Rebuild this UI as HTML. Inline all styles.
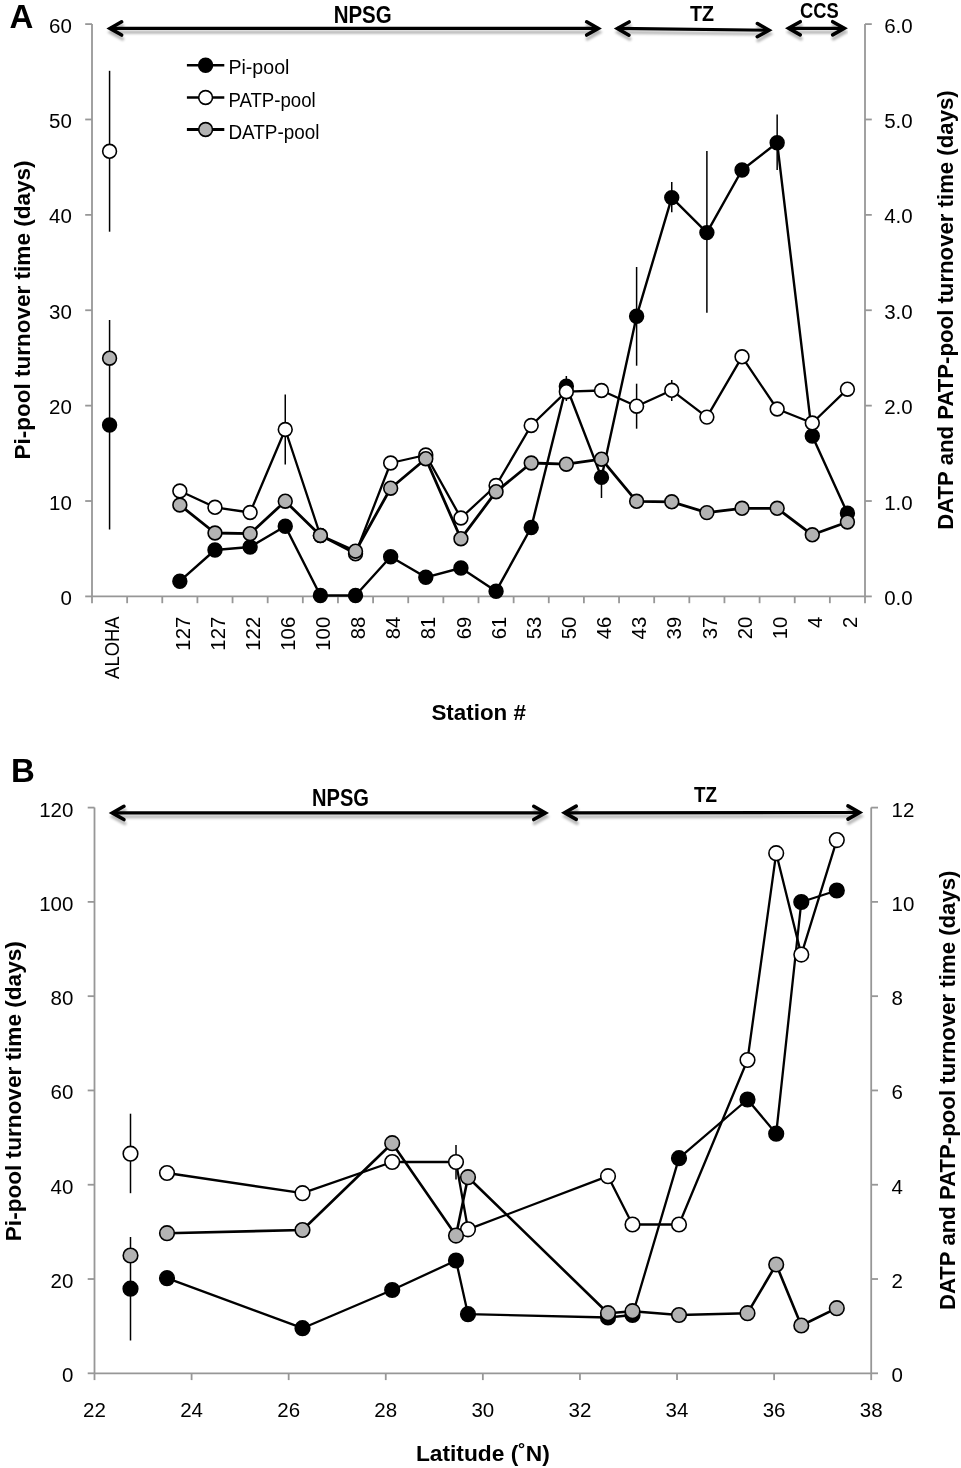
<!DOCTYPE html>
<html><head><meta charset="utf-8"><title>Turnover time</title>
<style>html,body{margin:0;padding:0;background:#fff;} svg{display:block;will-change:transform;} text{font-family:"Liberation Sans", sans-serif;fill:#000;}</style>
</head><body>
<svg width="961" height="1468" viewBox="0 0 961 1468">
<defs><filter id="sh" x="-5%" y="-50%" width="110%" height="250%"><feDropShadow dx="0.8" dy="3.8" stdDeviation="1.3" flood-color="#000" flood-opacity="0.28"/></filter></defs>
<rect width="961" height="1468" fill="#fff"/>
<g stroke="#979797" stroke-width="1.8" fill="none">
<line x1="92.00" y1="24.10" x2="92.00" y2="596.40" stroke="#979797" stroke-width="1.8" />
<line x1="865.00" y1="24.10" x2="865.00" y2="596.40" stroke="#979797" stroke-width="1.8" />
<line x1="92.00" y1="596.40" x2="865.00" y2="596.40" stroke="#979797" stroke-width="1.8" />
<line x1="85.20" y1="596.40" x2="92.00" y2="596.40" stroke="#979797" stroke-width="1.8" />
<line x1="865.00" y1="596.40" x2="871.80" y2="596.40" stroke="#979797" stroke-width="1.8" />
<line x1="85.20" y1="501.02" x2="92.00" y2="501.02" stroke="#979797" stroke-width="1.8" />
<line x1="865.00" y1="501.02" x2="871.80" y2="501.02" stroke="#979797" stroke-width="1.8" />
<line x1="85.20" y1="405.63" x2="92.00" y2="405.63" stroke="#979797" stroke-width="1.8" />
<line x1="865.00" y1="405.63" x2="871.80" y2="405.63" stroke="#979797" stroke-width="1.8" />
<line x1="85.20" y1="310.25" x2="92.00" y2="310.25" stroke="#979797" stroke-width="1.8" />
<line x1="865.00" y1="310.25" x2="871.80" y2="310.25" stroke="#979797" stroke-width="1.8" />
<line x1="85.20" y1="214.87" x2="92.00" y2="214.87" stroke="#979797" stroke-width="1.8" />
<line x1="865.00" y1="214.87" x2="871.80" y2="214.87" stroke="#979797" stroke-width="1.8" />
<line x1="85.20" y1="119.48" x2="92.00" y2="119.48" stroke="#979797" stroke-width="1.8" />
<line x1="865.00" y1="119.48" x2="871.80" y2="119.48" stroke="#979797" stroke-width="1.8" />
<line x1="85.20" y1="24.10" x2="92.00" y2="24.10" stroke="#979797" stroke-width="1.8" />
<line x1="865.00" y1="24.10" x2="871.80" y2="24.10" stroke="#979797" stroke-width="1.8" />
<line x1="92.00" y1="596.40" x2="92.00" y2="603.20" stroke="#979797" stroke-width="1.8" />
<line x1="127.14" y1="596.40" x2="127.14" y2="603.20" stroke="#979797" stroke-width="1.8" />
<line x1="162.27" y1="596.40" x2="162.27" y2="603.20" stroke="#979797" stroke-width="1.8" />
<line x1="197.41" y1="596.40" x2="197.41" y2="603.20" stroke="#979797" stroke-width="1.8" />
<line x1="232.55" y1="596.40" x2="232.55" y2="603.20" stroke="#979797" stroke-width="1.8" />
<line x1="267.68" y1="596.40" x2="267.68" y2="603.20" stroke="#979797" stroke-width="1.8" />
<line x1="302.82" y1="596.40" x2="302.82" y2="603.20" stroke="#979797" stroke-width="1.8" />
<line x1="337.95" y1="596.40" x2="337.95" y2="603.20" stroke="#979797" stroke-width="1.8" />
<line x1="373.09" y1="596.40" x2="373.09" y2="603.20" stroke="#979797" stroke-width="1.8" />
<line x1="408.23" y1="596.40" x2="408.23" y2="603.20" stroke="#979797" stroke-width="1.8" />
<line x1="443.36" y1="596.40" x2="443.36" y2="603.20" stroke="#979797" stroke-width="1.8" />
<line x1="478.50" y1="596.40" x2="478.50" y2="603.20" stroke="#979797" stroke-width="1.8" />
<line x1="513.64" y1="596.40" x2="513.64" y2="603.20" stroke="#979797" stroke-width="1.8" />
<line x1="548.77" y1="596.40" x2="548.77" y2="603.20" stroke="#979797" stroke-width="1.8" />
<line x1="583.91" y1="596.40" x2="583.91" y2="603.20" stroke="#979797" stroke-width="1.8" />
<line x1="619.05" y1="596.40" x2="619.05" y2="603.20" stroke="#979797" stroke-width="1.8" />
<line x1="654.18" y1="596.40" x2="654.18" y2="603.20" stroke="#979797" stroke-width="1.8" />
<line x1="689.32" y1="596.40" x2="689.32" y2="603.20" stroke="#979797" stroke-width="1.8" />
<line x1="724.45" y1="596.40" x2="724.45" y2="603.20" stroke="#979797" stroke-width="1.8" />
<line x1="759.59" y1="596.40" x2="759.59" y2="603.20" stroke="#979797" stroke-width="1.8" />
<line x1="794.73" y1="596.40" x2="794.73" y2="603.20" stroke="#979797" stroke-width="1.8" />
<line x1="829.86" y1="596.40" x2="829.86" y2="603.20" stroke="#979797" stroke-width="1.8" />
<line x1="865.00" y1="596.40" x2="865.00" y2="603.20" stroke="#979797" stroke-width="1.8" />
</g>
<text x="71.80" y="605.00" font-size="20.5" text-anchor="end" font-weight="normal" >0</text>
<text x="884.20" y="605.00" font-size="20.5" text-anchor="start" font-weight="normal" >0.0</text>
<text x="71.80" y="509.62" font-size="20.5" text-anchor="end" font-weight="normal" >10</text>
<text x="884.20" y="509.62" font-size="20.5" text-anchor="start" font-weight="normal" >1.0</text>
<text x="71.80" y="414.23" font-size="20.5" text-anchor="end" font-weight="normal" >20</text>
<text x="884.20" y="414.23" font-size="20.5" text-anchor="start" font-weight="normal" >2.0</text>
<text x="71.80" y="318.85" font-size="20.5" text-anchor="end" font-weight="normal" >30</text>
<text x="884.20" y="318.85" font-size="20.5" text-anchor="start" font-weight="normal" >3.0</text>
<text x="71.80" y="223.47" font-size="20.5" text-anchor="end" font-weight="normal" >40</text>
<text x="884.20" y="223.47" font-size="20.5" text-anchor="start" font-weight="normal" >4.0</text>
<text x="71.80" y="128.08" font-size="20.5" text-anchor="end" font-weight="normal" >50</text>
<text x="884.20" y="128.08" font-size="20.5" text-anchor="start" font-weight="normal" >5.0</text>
<text x="71.80" y="32.70" font-size="20.5" text-anchor="end" font-weight="normal" >60</text>
<text x="884.20" y="32.70" font-size="20.5" text-anchor="start" font-weight="normal" >6.0</text>
<text x="119.27" y="616.30" font-size="20" text-anchor="end" font-weight="normal" transform="rotate(-90 119.27 616.30)" textLength="62.6" lengthAdjust="spacingAndGlyphs" >ALOHA</text>
<text x="189.54" y="616.80" font-size="20.3" text-anchor="end" font-weight="normal" transform="rotate(-90 189.54 616.80)" >127</text>
<text x="224.68" y="616.80" font-size="20.3" text-anchor="end" font-weight="normal" transform="rotate(-90 224.68 616.80)" >127</text>
<text x="259.81" y="616.80" font-size="20.3" text-anchor="end" font-weight="normal" transform="rotate(-90 259.81 616.80)" >122</text>
<text x="294.95" y="616.80" font-size="20.3" text-anchor="end" font-weight="normal" transform="rotate(-90 294.95 616.80)" >106</text>
<text x="330.09" y="616.80" font-size="20.3" text-anchor="end" font-weight="normal" transform="rotate(-90 330.09 616.80)" >100</text>
<text x="365.22" y="616.80" font-size="20.3" text-anchor="end" font-weight="normal" transform="rotate(-90 365.22 616.80)" >88</text>
<text x="400.36" y="616.80" font-size="20.3" text-anchor="end" font-weight="normal" transform="rotate(-90 400.36 616.80)" >84</text>
<text x="435.50" y="616.80" font-size="20.3" text-anchor="end" font-weight="normal" transform="rotate(-90 435.50 616.80)" >81</text>
<text x="470.63" y="616.80" font-size="20.3" text-anchor="end" font-weight="normal" transform="rotate(-90 470.63 616.80)" >69</text>
<text x="505.77" y="616.80" font-size="20.3" text-anchor="end" font-weight="normal" transform="rotate(-90 505.77 616.80)" >61</text>
<text x="540.90" y="616.80" font-size="20.3" text-anchor="end" font-weight="normal" transform="rotate(-90 540.90 616.80)" >53</text>
<text x="576.04" y="616.80" font-size="20.3" text-anchor="end" font-weight="normal" transform="rotate(-90 576.04 616.80)" >50</text>
<text x="611.18" y="616.80" font-size="20.3" text-anchor="end" font-weight="normal" transform="rotate(-90 611.18 616.80)" >46</text>
<text x="646.31" y="616.80" font-size="20.3" text-anchor="end" font-weight="normal" transform="rotate(-90 646.31 616.80)" >43</text>
<text x="681.45" y="616.80" font-size="20.3" text-anchor="end" font-weight="normal" transform="rotate(-90 681.45 616.80)" >39</text>
<text x="716.59" y="616.80" font-size="20.3" text-anchor="end" font-weight="normal" transform="rotate(-90 716.59 616.80)" >37</text>
<text x="751.72" y="616.80" font-size="20.3" text-anchor="end" font-weight="normal" transform="rotate(-90 751.72 616.80)" >20</text>
<text x="786.86" y="616.80" font-size="20.3" text-anchor="end" font-weight="normal" transform="rotate(-90 786.86 616.80)" >10</text>
<text x="822.00" y="616.80" font-size="20.3" text-anchor="end" font-weight="normal" transform="rotate(-90 822.00 616.80)" >4</text>
<text x="857.13" y="616.80" font-size="20.3" text-anchor="end" font-weight="normal" transform="rotate(-90 857.13 616.80)" >2</text>
<text x="29.80" y="459.50" font-size="22" text-anchor="start" font-weight="bold" transform="rotate(-90 29.80 459.50)" textLength="299" lengthAdjust="spacingAndGlyphs" >Pi-pool turnover time (days)</text>
<text x="953.20" y="529.80" font-size="22" text-anchor="start" font-weight="bold" transform="rotate(-90 953.20 529.80)" textLength="439.5" lengthAdjust="spacingAndGlyphs" >DATP and PATP-pool turnover time (days)</text>
<text x="478.70" y="720.30" font-size="22" text-anchor="middle" font-weight="bold" textLength="94.5" lengthAdjust="spacingAndGlyphs" >Station #</text>
<text x="9.60" y="28.30" font-size="33" text-anchor="start" font-weight="bold" >A</text>
<g filter="url(#sh)" stroke="#000" fill="none"><line x1="110.04" y1="28.40" x2="598.26" y2="28.40" stroke-width="3.2"/><polyline stroke-width="3.6" stroke-linecap="round" stroke-linejoin="miter" stroke-miterlimit="10" points="121.64,35.00 110.04,28.40 121.64,21.80"/><polyline stroke-width="3.6" stroke-linecap="round" stroke-linejoin="miter" stroke-miterlimit="10" points="586.66,35.00 598.26,28.40 586.66,21.80"/></g>
<g filter="url(#sh)" stroke="#000" fill="none"><line x1="617.44" y1="28.44" x2="768.96" y2="30.26" stroke-width="3.2"/><polyline stroke-width="3.6" stroke-linecap="round" stroke-linejoin="miter" stroke-miterlimit="10" points="628.96,35.18 617.44,28.44 629.12,21.98"/><polyline stroke-width="3.6" stroke-linecap="round" stroke-linejoin="miter" stroke-miterlimit="10" points="757.28,36.72 768.96,30.26 757.44,23.52"/></g>
<g filter="url(#sh)" stroke="#000" fill="none"><line x1="788.64" y1="28.30" x2="844.26" y2="28.30" stroke-width="3.2"/><polyline stroke-width="3.6" stroke-linecap="round" stroke-linejoin="miter" stroke-miterlimit="10" points="800.24,34.90 788.64,28.30 800.24,21.70"/><polyline stroke-width="3.6" stroke-linecap="round" stroke-linejoin="miter" stroke-miterlimit="10" points="832.66,34.90 844.26,28.30 832.66,21.70"/></g>
<text x="362.70" y="22.60" font-size="23" text-anchor="middle" font-weight="bold" textLength="58" lengthAdjust="spacingAndGlyphs" >NPSG</text>
<text x="702.10" y="20.80" font-size="22" text-anchor="middle" font-weight="bold" textLength="24" lengthAdjust="spacingAndGlyphs" >TZ</text>
<text x="819.40" y="18.30" font-size="22" text-anchor="middle" font-weight="bold" textLength="38.7" lengthAdjust="spacingAndGlyphs" >CCS</text>
<line x1="186.90" y1="65.30" x2="224.30" y2="65.30" stroke="#000" stroke-width="2.4" />
<circle cx="205.60" cy="65.30" r="6.9" fill="#000" stroke="#000" stroke-width="1.6"/>
<text x="228.40" y="74.30" font-size="20.3" text-anchor="start" font-weight="normal" textLength="61" lengthAdjust="spacingAndGlyphs" >Pi-pool</text>
<line x1="186.90" y1="97.50" x2="224.30" y2="97.50" stroke="#000" stroke-width="2.3" />
<circle cx="205.60" cy="97.50" r="6.9" fill="#fff" stroke="#000" stroke-width="1.6"/>
<text x="228.40" y="106.50" font-size="20.3" text-anchor="start" font-weight="normal" textLength="87.3" lengthAdjust="spacingAndGlyphs" >PATP-pool</text>
<line x1="186.90" y1="129.50" x2="224.30" y2="129.50" stroke="#000" stroke-width="2.8" />
<circle cx="205.60" cy="129.50" r="6.9" fill="#b3b3b3" stroke="#000" stroke-width="1.6"/>
<text x="228.40" y="138.50" font-size="20.3" text-anchor="start" font-weight="normal" textLength="91" lengthAdjust="spacingAndGlyphs" >DATP-pool</text>
<line x1="109.57" y1="70.80" x2="109.57" y2="231.70" stroke="#000" stroke-width="1.5" />
<line x1="109.57" y1="320.00" x2="109.57" y2="529.50" stroke="#000" stroke-width="1.5" />
<line x1="285.25" y1="394.50" x2="285.25" y2="464.50" stroke="#000" stroke-width="1.5" />
<line x1="566.34" y1="376.00" x2="566.34" y2="401.00" stroke="#000" stroke-width="1.5" />
<line x1="601.48" y1="470.00" x2="601.48" y2="498.00" stroke="#000" stroke-width="1.5" />
<line x1="636.61" y1="267.00" x2="636.61" y2="365.70" stroke="#000" stroke-width="1.5" />
<line x1="671.75" y1="182.00" x2="671.75" y2="212.20" stroke="#000" stroke-width="1.5" />
<line x1="706.89" y1="151.00" x2="706.89" y2="312.70" stroke="#000" stroke-width="1.5" />
<line x1="777.16" y1="114.60" x2="777.16" y2="170.00" stroke="#000" stroke-width="1.5" />
<line x1="636.61" y1="383.70" x2="636.61" y2="428.70" stroke="#000" stroke-width="1.5" />
<line x1="671.75" y1="380.00" x2="671.75" y2="401.00" stroke="#000" stroke-width="1.5" />
<polyline points="179.84,581.20 214.98,550.00 250.11,547.00 285.25,526.20 320.39,595.50 355.52,595.50 390.66,556.70 425.80,577.30 460.93,568.00 496.07,591.20 531.20,527.50 566.34,386.20 601.48,477.40 636.61,316.20 671.75,197.60 706.89,232.60 742.02,170.00 777.16,142.80 812.30,436.00 847.43,513.20" fill="none" stroke="#000" stroke-width="2.4" stroke-linejoin="round"/>
<circle cx="109.57" cy="425.00" r="6.9" fill="#000" stroke="#000" stroke-width="1.6"/>
<circle cx="179.84" cy="581.20" r="6.9" fill="#000" stroke="#000" stroke-width="1.6"/>
<circle cx="214.98" cy="550.00" r="6.9" fill="#000" stroke="#000" stroke-width="1.6"/>
<circle cx="250.11" cy="547.00" r="6.9" fill="#000" stroke="#000" stroke-width="1.6"/>
<circle cx="285.25" cy="526.20" r="6.9" fill="#000" stroke="#000" stroke-width="1.6"/>
<circle cx="320.39" cy="595.50" r="6.9" fill="#000" stroke="#000" stroke-width="1.6"/>
<circle cx="355.52" cy="595.50" r="6.9" fill="#000" stroke="#000" stroke-width="1.6"/>
<circle cx="390.66" cy="556.70" r="6.9" fill="#000" stroke="#000" stroke-width="1.6"/>
<circle cx="425.80" cy="577.30" r="6.9" fill="#000" stroke="#000" stroke-width="1.6"/>
<circle cx="460.93" cy="568.00" r="6.9" fill="#000" stroke="#000" stroke-width="1.6"/>
<circle cx="496.07" cy="591.20" r="6.9" fill="#000" stroke="#000" stroke-width="1.6"/>
<circle cx="531.20" cy="527.50" r="6.9" fill="#000" stroke="#000" stroke-width="1.6"/>
<circle cx="566.34" cy="386.20" r="6.9" fill="#000" stroke="#000" stroke-width="1.6"/>
<circle cx="601.48" cy="477.40" r="6.9" fill="#000" stroke="#000" stroke-width="1.6"/>
<circle cx="636.61" cy="316.20" r="6.9" fill="#000" stroke="#000" stroke-width="1.6"/>
<circle cx="671.75" cy="197.60" r="6.9" fill="#000" stroke="#000" stroke-width="1.6"/>
<circle cx="706.89" cy="232.60" r="6.9" fill="#000" stroke="#000" stroke-width="1.6"/>
<circle cx="742.02" cy="170.00" r="6.9" fill="#000" stroke="#000" stroke-width="1.6"/>
<circle cx="777.16" cy="142.80" r="6.9" fill="#000" stroke="#000" stroke-width="1.6"/>
<circle cx="812.30" cy="436.00" r="6.9" fill="#000" stroke="#000" stroke-width="1.6"/>
<circle cx="847.43" cy="513.20" r="6.9" fill="#000" stroke="#000" stroke-width="1.6"/>
<polyline points="179.84,491.00 214.98,507.30 250.11,512.50 285.25,429.50 320.39,535.50 355.52,553.70 390.66,463.00 425.80,455.00 460.93,518.00 496.07,485.50 531.20,425.50 566.34,391.70 601.48,390.50 636.61,406.20 671.75,390.30 706.89,417.10 742.02,356.80 777.16,409.00 812.30,423.00 847.43,389.20" fill="none" stroke="#000" stroke-width="2.3" stroke-linejoin="round"/>
<circle cx="109.57" cy="151.30" r="6.9" fill="#fff" stroke="#000" stroke-width="1.6"/>
<circle cx="179.84" cy="491.00" r="6.9" fill="#fff" stroke="#000" stroke-width="1.6"/>
<circle cx="214.98" cy="507.30" r="6.9" fill="#fff" stroke="#000" stroke-width="1.6"/>
<circle cx="250.11" cy="512.50" r="6.9" fill="#fff" stroke="#000" stroke-width="1.6"/>
<circle cx="285.25" cy="429.50" r="6.9" fill="#fff" stroke="#000" stroke-width="1.6"/>
<circle cx="320.39" cy="535.50" r="6.9" fill="#fff" stroke="#000" stroke-width="1.6"/>
<circle cx="355.52" cy="553.70" r="6.9" fill="#fff" stroke="#000" stroke-width="1.6"/>
<circle cx="390.66" cy="463.00" r="6.9" fill="#fff" stroke="#000" stroke-width="1.6"/>
<circle cx="425.80" cy="455.00" r="6.9" fill="#fff" stroke="#000" stroke-width="1.6"/>
<circle cx="460.93" cy="518.00" r="6.9" fill="#fff" stroke="#000" stroke-width="1.6"/>
<circle cx="496.07" cy="485.50" r="6.9" fill="#fff" stroke="#000" stroke-width="1.6"/>
<circle cx="531.20" cy="425.50" r="6.9" fill="#fff" stroke="#000" stroke-width="1.6"/>
<circle cx="566.34" cy="391.70" r="6.9" fill="#fff" stroke="#000" stroke-width="1.6"/>
<circle cx="601.48" cy="390.50" r="6.9" fill="#fff" stroke="#000" stroke-width="1.6"/>
<circle cx="636.61" cy="406.20" r="6.9" fill="#fff" stroke="#000" stroke-width="1.6"/>
<circle cx="671.75" cy="390.30" r="6.9" fill="#fff" stroke="#000" stroke-width="1.6"/>
<circle cx="706.89" cy="417.10" r="6.9" fill="#fff" stroke="#000" stroke-width="1.6"/>
<circle cx="742.02" cy="356.80" r="6.9" fill="#fff" stroke="#000" stroke-width="1.6"/>
<circle cx="777.16" cy="409.00" r="6.9" fill="#fff" stroke="#000" stroke-width="1.6"/>
<circle cx="812.30" cy="423.00" r="6.9" fill="#fff" stroke="#000" stroke-width="1.6"/>
<circle cx="847.43" cy="389.20" r="6.9" fill="#fff" stroke="#000" stroke-width="1.6"/>
<polyline points="179.84,505.00 214.98,533.00 250.11,533.70 285.25,501.20 320.39,535.50 355.52,551.20 390.66,488.20 425.80,458.70 460.93,538.70 496.07,491.70 531.20,463.00 566.34,464.20 601.48,459.20 636.61,501.30 671.75,501.80 706.89,512.60 742.02,508.30 777.16,508.30 812.30,534.80 847.43,522.00" fill="none" stroke="#000" stroke-width="2.8" stroke-linejoin="round"/>
<circle cx="109.57" cy="358.20" r="6.9" fill="#b3b3b3" stroke="#000" stroke-width="1.6"/>
<circle cx="179.84" cy="505.00" r="6.9" fill="#b3b3b3" stroke="#000" stroke-width="1.6"/>
<circle cx="214.98" cy="533.00" r="6.9" fill="#b3b3b3" stroke="#000" stroke-width="1.6"/>
<circle cx="250.11" cy="533.70" r="6.9" fill="#b3b3b3" stroke="#000" stroke-width="1.6"/>
<circle cx="285.25" cy="501.20" r="6.9" fill="#b3b3b3" stroke="#000" stroke-width="1.6"/>
<circle cx="320.39" cy="535.50" r="6.9" fill="#b3b3b3" stroke="#000" stroke-width="1.6"/>
<circle cx="355.52" cy="551.20" r="6.9" fill="#b3b3b3" stroke="#000" stroke-width="1.6"/>
<circle cx="390.66" cy="488.20" r="6.9" fill="#b3b3b3" stroke="#000" stroke-width="1.6"/>
<circle cx="425.80" cy="458.70" r="6.9" fill="#b3b3b3" stroke="#000" stroke-width="1.6"/>
<circle cx="460.93" cy="538.70" r="6.9" fill="#b3b3b3" stroke="#000" stroke-width="1.6"/>
<circle cx="496.07" cy="491.70" r="6.9" fill="#b3b3b3" stroke="#000" stroke-width="1.6"/>
<circle cx="531.20" cy="463.00" r="6.9" fill="#b3b3b3" stroke="#000" stroke-width="1.6"/>
<circle cx="566.34" cy="464.20" r="6.9" fill="#b3b3b3" stroke="#000" stroke-width="1.6"/>
<circle cx="601.48" cy="459.20" r="6.9" fill="#b3b3b3" stroke="#000" stroke-width="1.6"/>
<circle cx="636.61" cy="501.30" r="6.9" fill="#b3b3b3" stroke="#000" stroke-width="1.6"/>
<circle cx="671.75" cy="501.80" r="6.9" fill="#b3b3b3" stroke="#000" stroke-width="1.6"/>
<circle cx="706.89" cy="512.60" r="6.9" fill="#b3b3b3" stroke="#000" stroke-width="1.6"/>
<circle cx="742.02" cy="508.30" r="6.9" fill="#b3b3b3" stroke="#000" stroke-width="1.6"/>
<circle cx="777.16" cy="508.30" r="6.9" fill="#b3b3b3" stroke="#000" stroke-width="1.6"/>
<circle cx="812.30" cy="534.80" r="6.9" fill="#b3b3b3" stroke="#000" stroke-width="1.6"/>
<circle cx="847.43" cy="522.00" r="6.9" fill="#b3b3b3" stroke="#000" stroke-width="1.6"/>
<line x1="94.50" y1="807.60" x2="94.50" y2="1373.30" stroke="#979797" stroke-width="1.8" />
<line x1="871.20" y1="807.60" x2="871.20" y2="1373.30" stroke="#979797" stroke-width="1.8" />
<line x1="94.50" y1="1373.30" x2="871.20" y2="1373.30" stroke="#979797" stroke-width="1.8" />
<line x1="87.70" y1="1373.30" x2="94.50" y2="1373.30" stroke="#979797" stroke-width="1.8" />
<line x1="871.20" y1="1373.30" x2="878.00" y2="1373.30" stroke="#979797" stroke-width="1.8" />
<text x="73.40" y="1382.30" font-size="20.5" text-anchor="end" font-weight="normal" >0</text>
<text x="891.60" y="1382.30" font-size="20.5" text-anchor="start" font-weight="normal" >0</text>
<line x1="87.70" y1="1279.02" x2="94.50" y2="1279.02" stroke="#979797" stroke-width="1.8" />
<line x1="871.20" y1="1279.02" x2="878.00" y2="1279.02" stroke="#979797" stroke-width="1.8" />
<text x="73.40" y="1288.02" font-size="20.5" text-anchor="end" font-weight="normal" >20</text>
<text x="891.60" y="1288.02" font-size="20.5" text-anchor="start" font-weight="normal" >2</text>
<line x1="87.70" y1="1184.73" x2="94.50" y2="1184.73" stroke="#979797" stroke-width="1.8" />
<line x1="871.20" y1="1184.73" x2="878.00" y2="1184.73" stroke="#979797" stroke-width="1.8" />
<text x="73.40" y="1193.73" font-size="20.5" text-anchor="end" font-weight="normal" >40</text>
<text x="891.60" y="1193.73" font-size="20.5" text-anchor="start" font-weight="normal" >4</text>
<line x1="87.70" y1="1090.45" x2="94.50" y2="1090.45" stroke="#979797" stroke-width="1.8" />
<line x1="871.20" y1="1090.45" x2="878.00" y2="1090.45" stroke="#979797" stroke-width="1.8" />
<text x="73.40" y="1099.45" font-size="20.5" text-anchor="end" font-weight="normal" >60</text>
<text x="891.60" y="1099.45" font-size="20.5" text-anchor="start" font-weight="normal" >6</text>
<line x1="87.70" y1="996.17" x2="94.50" y2="996.17" stroke="#979797" stroke-width="1.8" />
<line x1="871.20" y1="996.17" x2="878.00" y2="996.17" stroke="#979797" stroke-width="1.8" />
<text x="73.40" y="1005.17" font-size="20.5" text-anchor="end" font-weight="normal" >80</text>
<text x="891.60" y="1005.17" font-size="20.5" text-anchor="start" font-weight="normal" >8</text>
<line x1="87.70" y1="901.88" x2="94.50" y2="901.88" stroke="#979797" stroke-width="1.8" />
<line x1="871.20" y1="901.88" x2="878.00" y2="901.88" stroke="#979797" stroke-width="1.8" />
<text x="73.40" y="910.88" font-size="20.5" text-anchor="end" font-weight="normal" >100</text>
<text x="891.60" y="910.88" font-size="20.5" text-anchor="start" font-weight="normal" >10</text>
<line x1="87.70" y1="807.60" x2="94.50" y2="807.60" stroke="#979797" stroke-width="1.8" />
<line x1="871.20" y1="807.60" x2="878.00" y2="807.60" stroke="#979797" stroke-width="1.8" />
<text x="73.40" y="816.60" font-size="20.5" text-anchor="end" font-weight="normal" >120</text>
<text x="891.60" y="816.60" font-size="20.5" text-anchor="start" font-weight="normal" >12</text>
<line x1="94.50" y1="1373.30" x2="94.50" y2="1380.10" stroke="#979797" stroke-width="1.8" />
<text x="94.50" y="1416.60" font-size="20.5" text-anchor="middle" font-weight="normal" >22</text>
<line x1="191.59" y1="1373.30" x2="191.59" y2="1380.10" stroke="#979797" stroke-width="1.8" />
<text x="191.59" y="1416.60" font-size="20.5" text-anchor="middle" font-weight="normal" >24</text>
<line x1="288.68" y1="1373.30" x2="288.68" y2="1380.10" stroke="#979797" stroke-width="1.8" />
<text x="288.68" y="1416.60" font-size="20.5" text-anchor="middle" font-weight="normal" >26</text>
<line x1="385.76" y1="1373.30" x2="385.76" y2="1380.10" stroke="#979797" stroke-width="1.8" />
<text x="385.76" y="1416.60" font-size="20.5" text-anchor="middle" font-weight="normal" >28</text>
<line x1="482.85" y1="1373.30" x2="482.85" y2="1380.10" stroke="#979797" stroke-width="1.8" />
<text x="482.85" y="1416.60" font-size="20.5" text-anchor="middle" font-weight="normal" >30</text>
<line x1="579.94" y1="1373.30" x2="579.94" y2="1380.10" stroke="#979797" stroke-width="1.8" />
<text x="579.94" y="1416.60" font-size="20.5" text-anchor="middle" font-weight="normal" >32</text>
<line x1="677.03" y1="1373.30" x2="677.03" y2="1380.10" stroke="#979797" stroke-width="1.8" />
<text x="677.03" y="1416.60" font-size="20.5" text-anchor="middle" font-weight="normal" >34</text>
<line x1="774.11" y1="1373.30" x2="774.11" y2="1380.10" stroke="#979797" stroke-width="1.8" />
<text x="774.11" y="1416.60" font-size="20.5" text-anchor="middle" font-weight="normal" >36</text>
<line x1="871.20" y1="1373.30" x2="871.20" y2="1380.10" stroke="#979797" stroke-width="1.8" />
<text x="871.20" y="1416.60" font-size="20.5" text-anchor="middle" font-weight="normal" >38</text>
<text x="21.50" y="1241.20" font-size="22" text-anchor="start" font-weight="bold" transform="rotate(-90 21.50 1241.20)" textLength="300" lengthAdjust="spacingAndGlyphs" >Pi-pool turnover time (days)</text>
<text x="955.00" y="1310.10" font-size="22" text-anchor="start" font-weight="bold" transform="rotate(-90 955.00 1310.10)" textLength="439.6" lengthAdjust="spacingAndGlyphs" >DATP and PATP-pool turnover time (days)</text>
<text x="482.90" y="1460.50" font-size="22" text-anchor="middle" font-weight="bold" textLength="134" lengthAdjust="spacingAndGlyphs" >Latitude (˚N)</text>
<text x="11.00" y="782.30" font-size="33" text-anchor="start" font-weight="bold" >B</text>
<g filter="url(#sh)" stroke="#000" fill="none"><line x1="112.34" y1="812.90" x2="545.36" y2="812.90" stroke-width="3.2"/><polyline stroke-width="3.6" stroke-linecap="round" stroke-linejoin="miter" stroke-miterlimit="10" points="123.94,819.50 112.34,812.90 123.94,806.30"/><polyline stroke-width="3.6" stroke-linecap="round" stroke-linejoin="miter" stroke-miterlimit="10" points="533.76,819.50 545.36,812.90 533.76,806.30"/></g>
<g filter="url(#sh)" stroke="#000" fill="none"><line x1="564.64" y1="812.80" x2="859.56" y2="812.50" stroke-width="3.2"/><polyline stroke-width="3.6" stroke-linecap="round" stroke-linejoin="miter" stroke-miterlimit="10" points="576.25,819.38 564.64,812.80 576.23,806.18"/><polyline stroke-width="3.6" stroke-linecap="round" stroke-linejoin="miter" stroke-miterlimit="10" points="847.97,819.12 859.56,812.50 847.95,805.92"/></g>
<text x="340.50" y="805.70" font-size="23" text-anchor="middle" font-weight="bold" textLength="57" lengthAdjust="spacingAndGlyphs" >NPSG</text>
<text x="705.60" y="801.70" font-size="22" text-anchor="middle" font-weight="bold" textLength="23" lengthAdjust="spacingAndGlyphs" >TZ</text>
<line x1="130.50" y1="1113.70" x2="130.50" y2="1193.20" stroke="#000" stroke-width="1.5" />
<line x1="130.50" y1="1237.00" x2="130.50" y2="1340.50" stroke="#000" stroke-width="1.5" />
<line x1="456.00" y1="1145.00" x2="456.00" y2="1179.50" stroke="#000" stroke-width="1.5" />
<polyline points="167.00,1278.20 302.50,1328.20 392.20,1290.00 456.00,1260.50 468.00,1314.20 608.00,1317.50 632.50,1315.00 679.00,1158.20 747.50,1099.50 776.20,1133.70 801.30,902.00 836.80,890.50" fill="none" stroke="#000" stroke-width="2.3" stroke-linejoin="round"/>
<circle cx="167.00" cy="1278.20" r="7.3" fill="#000" stroke="#000" stroke-width="1.6"/>
<circle cx="302.50" cy="1328.20" r="7.3" fill="#000" stroke="#000" stroke-width="1.6"/>
<circle cx="392.20" cy="1290.00" r="7.3" fill="#000" stroke="#000" stroke-width="1.6"/>
<circle cx="456.00" cy="1260.50" r="7.3" fill="#000" stroke="#000" stroke-width="1.6"/>
<circle cx="468.00" cy="1314.20" r="7.3" fill="#000" stroke="#000" stroke-width="1.6"/>
<circle cx="608.00" cy="1317.50" r="7.3" fill="#000" stroke="#000" stroke-width="1.6"/>
<circle cx="632.50" cy="1315.00" r="7.3" fill="#000" stroke="#000" stroke-width="1.6"/>
<circle cx="679.00" cy="1158.20" r="7.3" fill="#000" stroke="#000" stroke-width="1.6"/>
<circle cx="747.50" cy="1099.50" r="7.3" fill="#000" stroke="#000" stroke-width="1.6"/>
<circle cx="776.20" cy="1133.70" r="7.3" fill="#000" stroke="#000" stroke-width="1.6"/>
<circle cx="801.30" cy="902.00" r="7.3" fill="#000" stroke="#000" stroke-width="1.6"/>
<circle cx="836.80" cy="890.50" r="7.3" fill="#000" stroke="#000" stroke-width="1.6"/>
<circle cx="130.50" cy="1288.70" r="7.3" fill="#000" stroke="#000" stroke-width="1.6"/>
<polyline points="167.00,1173.00 302.50,1193.20 392.20,1162.00 456.00,1162.00 468.00,1229.30 608.00,1176.20 632.50,1224.50 679.00,1224.50 747.50,1060.00 776.20,853.20 801.30,954.60 836.80,840.10" fill="none" stroke="#000" stroke-width="2.3" stroke-linejoin="round"/>
<circle cx="167.00" cy="1173.00" r="7.3" fill="#fff" stroke="#000" stroke-width="1.6"/>
<circle cx="302.50" cy="1193.20" r="7.3" fill="#fff" stroke="#000" stroke-width="1.6"/>
<circle cx="392.20" cy="1162.00" r="7.3" fill="#fff" stroke="#000" stroke-width="1.6"/>
<circle cx="456.00" cy="1162.00" r="7.3" fill="#fff" stroke="#000" stroke-width="1.6"/>
<circle cx="468.00" cy="1229.30" r="7.3" fill="#fff" stroke="#000" stroke-width="1.6"/>
<circle cx="608.00" cy="1176.20" r="7.3" fill="#fff" stroke="#000" stroke-width="1.6"/>
<circle cx="632.50" cy="1224.50" r="7.3" fill="#fff" stroke="#000" stroke-width="1.6"/>
<circle cx="679.00" cy="1224.50" r="7.3" fill="#fff" stroke="#000" stroke-width="1.6"/>
<circle cx="747.50" cy="1060.00" r="7.3" fill="#fff" stroke="#000" stroke-width="1.6"/>
<circle cx="776.20" cy="853.20" r="7.3" fill="#fff" stroke="#000" stroke-width="1.6"/>
<circle cx="801.30" cy="954.60" r="7.3" fill="#fff" stroke="#000" stroke-width="1.6"/>
<circle cx="836.80" cy="840.10" r="7.3" fill="#fff" stroke="#000" stroke-width="1.6"/>
<circle cx="130.50" cy="1153.70" r="7.3" fill="#fff" stroke="#000" stroke-width="1.6"/>
<polyline points="167.00,1233.20 302.50,1230.00 392.20,1143.20 456.00,1235.60 468.00,1177.20 608.00,1313.20 632.50,1311.20 679.00,1315.00 747.50,1313.20 776.20,1264.50 801.30,1325.50 836.80,1308.20" fill="none" stroke="#000" stroke-width="2.6" stroke-linejoin="round"/>
<circle cx="167.00" cy="1233.20" r="7.3" fill="#b3b3b3" stroke="#000" stroke-width="1.6"/>
<circle cx="302.50" cy="1230.00" r="7.3" fill="#b3b3b3" stroke="#000" stroke-width="1.6"/>
<circle cx="392.20" cy="1143.20" r="7.3" fill="#b3b3b3" stroke="#000" stroke-width="1.6"/>
<circle cx="456.00" cy="1235.60" r="7.3" fill="#b3b3b3" stroke="#000" stroke-width="1.6"/>
<circle cx="468.00" cy="1177.20" r="7.3" fill="#b3b3b3" stroke="#000" stroke-width="1.6"/>
<circle cx="608.00" cy="1313.20" r="7.3" fill="#b3b3b3" stroke="#000" stroke-width="1.6"/>
<circle cx="632.50" cy="1311.20" r="7.3" fill="#b3b3b3" stroke="#000" stroke-width="1.6"/>
<circle cx="679.00" cy="1315.00" r="7.3" fill="#b3b3b3" stroke="#000" stroke-width="1.6"/>
<circle cx="747.50" cy="1313.20" r="7.3" fill="#b3b3b3" stroke="#000" stroke-width="1.6"/>
<circle cx="776.20" cy="1264.50" r="7.3" fill="#b3b3b3" stroke="#000" stroke-width="1.6"/>
<circle cx="801.30" cy="1325.50" r="7.3" fill="#b3b3b3" stroke="#000" stroke-width="1.6"/>
<circle cx="836.80" cy="1308.20" r="7.3" fill="#b3b3b3" stroke="#000" stroke-width="1.6"/>
<circle cx="130.50" cy="1255.50" r="7.3" fill="#b3b3b3" stroke="#000" stroke-width="1.6"/>
</svg>
</body></html>
